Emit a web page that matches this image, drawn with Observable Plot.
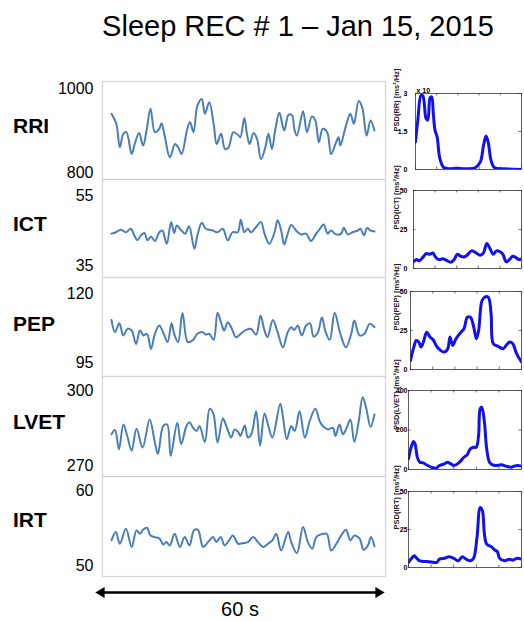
<!DOCTYPE html>
<html>
<head>
<meta charset="utf-8">
<script src="https://cdn.jsdelivr.net/npm/d3@7"></script>
<script src="https://cdn.jsdelivr.net/npm/@observablehq/plot@0.6"></script>
<style>
  html, body { margin: 0; padding: 0; background: #fff; }
  #root { position: relative; width: 524px; height: 621px; overflow: hidden; background: #fff;
          font-family: "Liberation Sans", Arial, Helvetica, sans-serif; }
  .abs { position: absolute; white-space: nowrap; }
</style>
</head>
<body>
<div id="root"></div>
<script>
// ---------------- DATA ----------------
const titleText = "Sleep REC # 1 \u2013 Jan 15, 2015";
const seriesNames = ["RRI", "ICT", "PEP", "LVET", "IRT"];
const durationLabel = "60 s";
const durationSeconds = 60;

// time series (seconds, units of each signal)
const rriTime = [0,1.1,1.9,2.7,3.4,4.6,5.3,6.3,7.2,8.0,8.9,9.9,10.9,11.4,12.2,13.3,14.5,15.2,16.0,17.2,17.9,18.7,19.6,20.6,21.3,22.3,23.3,24.0,25.0,25.9,26.7,27.8,29.0,29.4,30.3,30.9,31.5,32.4,33.2,34.1,35.1,35.8,36.6,37.4,38.3,39.4,40.4,41.2,41.7,42.3,43.7,44.6,45.7,46.5,47.3,48.2,49.2,50.1,51.1,51.8,52.2,53.4,54.5,55.3,56.4,57.2,58.2,59.1,60.0];
const rriValue = [940,916,860,892,896,844,868,894,864,900,952,896,904,917,884,836,868,860,844,900,920,896,959,975,940,967,916,868,892,856,860,896,888,884,930,892,868,894,880,832,860,892,856,904,942,900,938,936,904,888,946,896,933,924,872,904,896,844,868,884,864,908,940,916,970,955,888,924,900];

const ictTime = [0,1.0,2.1,3.3,4.4,5.2,5.9,6.7,7.5,8.2,9.0,9.9,10.9,11.6,12.6,13.6,14.3,14.9,15.8,16.8,17.7,18.9,19.6,20.6,21.5,22.3,23.1,24.2,25.4,26.5,27.6,28.8,29.5,30.3,31.1,31.8,33.0,34.1,34.9,36.0,37.2,37.9,38.7,39.4,40.2,41.0,42.1,43.2,44.4,45.5,46.7,47.4,48.4,49.3,50.1,51.2,52.4,53.0,53.9,55.0,56.2,56.8,57.6,58.3,59.1,60];
const ictValue = [44.1,44.5,45.2,44.5,45.5,43.6,42.2,43.6,44.3,42.2,43.3,42.0,44.5,45.0,41.2,47.4,44.3,46.4,45.2,44.1,46.2,39.8,43.6,47.2,45.5,45.2,45.0,44.5,45.5,42.2,44.5,44.5,48.1,44.5,45.5,44.5,46.0,47.4,44.1,41.2,44.5,47.9,45.0,41.0,44.1,46.6,45.0,43.9,44.1,42.0,44.1,45.2,46.7,44.1,45.0,43.9,44.1,45.8,43.9,44.5,45.0,45.5,43.6,45.7,45.0,44.7];

const pepTime = [0,0.8,1.8,2.7,3.7,4.6,5.6,6.5,7.3,8.1,9.0,9.9,10.9,11.9,12.8,13.7,14.3,15.2,16.2,17.4,18.5,19.6,20.8,21.5,22.3,23.3,24.2,25.1,25.7,26.5,27.3,28.4,29.5,30.7,31.8,33.0,34.0,34.9,35.6,36.8,37.9,39.1,40.2,41.0,41.7,42.5,43.4,44.4,45.3,46.1,47.1,48.0,48.8,49.8,50.9,52.2,53.5,54.7,55.4,56.6,57.7,58.9,60];
const pepValue = [110.4,106.0,109.2,104.8,107.2,106.6,101.7,106.6,104.8,105.4,99.9,105.4,108.4,105.4,102.4,109.2,105.4,102.4,112.9,102.4,103.0,105.4,106.0,105.1,105.4,103.2,113.0,109.0,106.6,109.6,107.8,104.2,105.4,106.8,107.2,105.1,112.0,106.6,104.2,110.4,106.0,100.5,106.0,107.8,106.8,108.4,104.8,108.4,109.2,104.4,106.0,111.4,106.3,103.2,113.0,105.4,100.5,105.4,110.2,104.8,105.4,109.0,107.8];

const lvetTime = [0,0.8,1.7,2.7,3.6,4.6,5.7,7.1,8.7,9.9,10.6,11.8,12.7,13.5,15.0,15.9,17.1,17.8,18.6,19.4,20.1,21.3,22.4,23.2,24.2,25.4,26.2,27.3,28.1,28.9,29.4,30.4,31.1,31.9,33.0,33.9,34.9,35.7,36.7,38.5,39.1,40.0,41.0,41.8,42.9,44.1,45.2,46.5,47.5,48.2,49.4,50.5,51.1,52.0,52.8,53.5,54.5,55.4,56.4,57.3,58.1,59.1,60];
const lvetValue = [282.5,284.2,276.5,286.4,281.8,275.9,284.7,277.2,288.4,279.2,274.6,285.8,286.4,273.9,287.1,278.5,285.8,287.3,285.1,283.8,285.8,279.4,292.7,291.0,279.2,288.8,285.8,281.2,284.4,283.4,281.8,286.0,281.2,282.5,291.7,277.9,290.8,286.4,281.2,294.7,289.7,280.5,285.8,283.8,291.7,281.2,287.7,292.7,287.7,285.8,284.4,285.1,281.8,286.4,282.5,284.4,288.4,279.4,287.7,297.3,293.0,285.5,290.4];

const irtTime = [0,1.0,1.9,3.3,4.6,5.7,6.5,7.2,8.1,8.9,9.9,11.0,11.8,12.5,13.3,14.4,15.6,16.7,17.8,18.8,19.7,20.9,22.0,23.2,23.9,24.9,25.8,26.8,27.7,28.9,30.0,31.1,32.3,33.4,34.6,35.7,36.7,37.6,38.7,40.3,41.0,42.3,43.7,44.8,45.8,46.7,47.8,49.1,50.1,51.3,52.4,53.5,54.5,55.4,56.6,57.5,58.5,59.2,60];
const irtValue = [53.35,54.46,52.90,54.90,52.46,54.68,54.23,54.77,55.03,54.01,53.79,53.57,52.81,53.12,52.68,54.23,52.46,53.79,52.68,54.68,54.77,52.46,53.12,53.79,53.12,53.79,52.68,53.35,54.01,52.90,52.99,53.12,53.79,53.12,52.46,52.90,53.35,54.23,52.01,54.46,53.12,51.66,55.12,53.12,52.24,53.79,54.15,54.23,52.01,52.90,54.01,54.77,53.35,54.01,53.57,52.10,52.68,53.79,52.55];

// y tick labels for the time series panels
const rriTicks = [800, 1000];
const ictTicks = [35, 55];
const pepTicks = [95, 120];
const lvetTicks = [270, 300];
const irtTicks = [50, 60];

// power spectral densities (Hz, ms^2/Hz)
const psdFreqRR = [0,0.011,0.026,0.035,0.050,0.058,0.069,0.076,0.084,0.092,0.102,0.115,0.133,0.161,0.191,0.237,0.283,0.306,0.321,0.333,0.344,0.356,0.372,0.420,0.5];
const psdRR = [1.09,1.95,2.93,2.9,2.01,1.95,2.84,2.87,2.21,1.55,1.29,0.43,0.08,0.03,0.05,0.03,0.08,0.30,0.96,1.32,1.03,0.37,0.08,0.03,0.0];
const psdFreqICT = [0,0.015,0.027,0.042,0.060,0.075,0.090,0.102,0.117,0.136,0.151,0.173,0.188,0.203,0.218,0.233,0.248,0.268,0.286,0.309,0.324,0.339,0.354,0.369,0.384,0.399,0.414,0.429,0.444,0.459,0.474,0.489,0.5];
const psdICT = [4.3,5.7,4.9,7.0,9.6,9.1,10.0,7.4,5.7,6.2,5.3,4.0,5.7,9.1,7.9,7.4,8.5,11.3,10.4,8.5,10.0,16.0,12.8,9.1,11.3,10.9,9.1,4.3,5.7,7.9,7.0,5.7,6.2];
const psdFreqPEP = [0,0.015,0.026,0.037,0.047,0.058,0.073,0.088,0.102,0.120,0.139,0.154,0.168,0.178,0.190,0.205,0.227,0.241,0.256,0.270,0.285,0.297,0.307,0.322,0.336,0.351,0.363,0.373,0.395,0.417,0.431,0.446,0.461,0.475,0.490,0.5];
const psdPEP = [5.9,14.4,18.6,17.6,14.4,17.6,23.9,20.8,19.1,14.4,11.9,11.2,13.3,20.8,15.5,19.7,23.9,26.1,33.5,33.5,27.1,19.7,25.0,44.1,46.6,46.2,35.6,16.5,14.8,13.3,15.5,17.6,16.5,11.2,7.0,4.9];
const psdFreqLVET = [0,0.010,0.022,0.029,0.039,0.050,0.065,0.079,0.101,0.122,0.137,0.159,0.173,0.187,0.202,0.223,0.245,0.259,0.274,0.288,0.300,0.310,0.317,0.324,0.336,0.346,0.360,0.382,0.411,0.432,0.454,0.468,0.483,0.5];
const psdLVET = [54,105,142,130,62,37,34,24,12,7,20,29,37,29,20,34,62,74,105,113,113,172,307,316,240,105,34,20,24,17,12,17,20,17];
const psdFreqIRT = [0,0.014,0.026,0.036,0.050,0.079,0.108,0.125,0.137,0.159,0.180,0.202,0.220,0.238,0.255,0.274,0.288,0.303,0.317,0.327,0.336,0.346,0.367,0.382,0.393,0.403,0.425,0.447,0.461,0.480,0.5];
const psdIRT = [3.3,6.1,7.7,6.1,4.4,3.9,3.5,3.3,5.5,6.1,7.0,5.9,4.4,7.0,5.5,4.4,6.1,19.7,39.5,37.3,21.9,15.4,13.6,11.4,10.5,6.1,4.4,5.5,4.8,6.1,5.5];

const psdLabels = ["PSD(RR) [ms\u00B2/Hz]", "PSD(ICT) [ms\u00B2/Hz]", "PSD(PEP) [ms\u00B2/Hz]", "PSD(LVET) [ms\u00B2/Hz]", "PSD(IRT) [ms\u00B2/Hz]"];
const psdTicksRR = [0, 1.5, 3];
const psdTicks50 = [0, 25, 50];
const psdTicksLVET = [0, 200, 400];
const psdFreqTicks = [0, 0.1, 0.2, 0.3, 0.4, 0.5];
const psdScaleNote = "x 10";

// ---------------- LAYOUT / DRAWING ----------------
const FONT = '"Liberation Sans", Arial, Helvetica, sans-serif';
const root = document.getElementById("root");
function place(el, left, top) {
  el.style.position = "absolute";
  el.style.left = left + "px";
  el.style.top = top + "px";
  root.appendChild(el);
  return el;
}
function zip(t, v, kx, ky) {
  const n = Math.min(t.length, v.length);
  const out = [];
  for (let i = 0; i < n; i++) out.push({[kx]: t[i], [ky]: v[i]});
  return out;
}

// title
const title = document.createElement("div");
title.className = "abs";
title.textContent = titleText;
title.style.fontSize = "29px";
title.style.lineHeight = "29px";
title.style.width = "524px";
title.style.textAlign = "center";
place(title, 36, 12);

const series = [
  {t: rriTime, v: rriValue, ticks: rriTicks},
  {t: ictTime, v: ictValue, ticks: ictTicks},
  {t: pepTime, v: pepValue, ticks: pepTicks},
  {t: lvetTime, v: lvetValue, ticks: lvetTicks},
  {t: irtTime, v: irtValue, ticks: irtTicks}
];
// panel geometry (pixels)
const boxTop = [81, 179, 277, 376, 476];
const boxH = [98, 98, 99, 100, 100];
const tickPx = [[172, 88], [265, 195], [362, 293], [465, 390], [565, 490]];
const labelCenter = [126, 224, 324, 422, 520];

series.forEach((s, i) => {
  const data = zip(s.t, s.v, "t", "v");
  const top = boxTop[i];
  const svg = Plot.plot({
    width: 386, height: boxH[i],
    marginLeft: 102, marginRight: 1, marginTop: 0, marginBottom: 0,
    style: {fontFamily: FONT, background: "transparent", overflow: "visible", color: "#000"},
    x: {domain: [0, durationSeconds], range: [111, 374], axis: null},
    y: {domain: s.ticks, range: [tickPx[i][0] - top, tickPx[i][1] - top], axis: null},
    marks: [
      Plot.frame({stroke: "#d4d4d4", strokeWidth: 1.2}),
      Plot.axisY(s.ticks, {anchor: "left", tickSize: 0, tickPadding: 9, fontSize: 16, tickFormat: d => String(d), label: null}),
      Plot.line(data, {x: "t", y: "v", stroke: "#4a7ebb", strokeWidth: 2, curve: "catmull-rom"})
    ]
  });
  place(svg, 0, top);

  const lab = document.createElement("div");
  lab.className = "abs";
  lab.textContent = seriesNames[i];
  lab.style.fontSize = "21px";
  lab.style.fontWeight = "bold";
  lab.style.lineHeight = "24px";
  place(lab, 13, labelCenter[i] - 12);
});

// PSD panels
const psds = [
  {f: psdFreqRR, p: psdRR, ticks: psdTicksRR, note: psdScaleNote},
  {f: psdFreqICT, p: psdICT, ticks: psdTicks50},
  {f: psdFreqPEP, p: psdPEP, ticks: psdTicks50},
  {f: psdFreqLVET, p: psdLVET, ticks: psdTicksLVET},
  {f: psdFreqIRT, p: psdIRT, ticks: psdTicks50}
];
const psdBox = [
  {left: 415, top: 93, bottom: 169},
  {left: 413, top: 190, bottom: 268},
  {left: 410, top: 291, bottom: 369},
  {left: 408, top: 390, bottom: 469},
  {left: 408, top: 491, bottom: 567}
];
const psdRight = 521;
const svgLeft = 386;

psds.forEach((s, i) => {
  const b = psdBox[i];
  const mt = 12, mb = 6;
  const w = 524 - svgLeft;
  const pw = psdRight - b.left, ph = b.bottom - b.top;
  const data = zip(s.f, s.p, "f", "p");
  const marks = [
    Plot.line(data, {x: "f", y: "p", stroke: "#1010f0", strokeWidth: 3, curve: "catmull-rom", clip: true}),
    Plot.frame({stroke: "#333", strokeWidth: 0.8}),
    Plot.tickX(psdFreqTicks, {x: d => d, stroke: "#333", strokeWidth: 0.7, insetBottom: ph - 2.5}),
    Plot.tickX(psdFreqTicks, {x: d => d, stroke: "#333", strokeWidth: 0.7, insetTop: ph - 2.5}),
    Plot.tickY(s.ticks, {y: d => d, stroke: "#333", strokeWidth: 0.7, insetRight: pw - 2.5}),
    Plot.tickY(s.ticks, {y: d => d, stroke: "#333", strokeWidth: 0.7, insetLeft: pw - 2.5}),
    Plot.axisY(s.ticks, {anchor: "left", tickSize: 0, tickPadding: b.left - 407, fontSize: 7, fontWeight: "bold", tickFormat: d => String(d), label: null}),
    Plot.text([psdLabels[i]], {text: d => d, frameAnchor: "left", dx: 396 - b.left, rotate: -90, fontSize: 7.5, fontWeight: "bold", fill: "#222"})
  ];
  if (s.note) marks.push(Plot.text([s.note], {text: d => d, frameAnchor: "top-left", textAnchor: "start", dx: 1, dy: -5, fontSize: 7, fontWeight: "bold"}));
  const svg = Plot.plot({
    width: w, height: ph + mt + mb,
    marginLeft: b.left - svgLeft, marginRight: 524 - psdRight, marginTop: mt, marginBottom: mb,
    style: {fontFamily: FONT, background: "transparent", overflow: "visible", color: "#000"},
    x: {domain: [0, 0.5], axis: null},
    y: {domain: [s.ticks[0], s.ticks[s.ticks.length - 1]], axis: null},
    marks
  });
  place(svg, svgLeft, b.top - mt);
});

// 60 s scale bar
const barData = [{a: 0, b: durationSeconds}];
const heads = [{x: 0, r: -90}, {x: durationSeconds, r: 90}];
const barSvg = Plot.plot({
  width: 524, height: 43, margin: 0,
  style: {fontFamily: FONT, background: "transparent", overflow: "visible", color: "#000"},
  x: {domain: [0, durationSeconds], range: [101, 378], axis: null},
  y: {domain: [0, 1], range: [14, 31], axis: null},
  marks: [
    Plot.link(barData, {x1: "a", x2: "b", y1: () => 0, y2: () => 0, stroke: "#000", strokeWidth: 2.5}),
    Plot.dot(heads, {x: "x", y: () => 0, symbol: "triangle", rotate: "r", r: 4, fill: "#000", stroke: "none"}),
    Plot.text([durationLabel], {text: d => d, x: () => durationSeconds / 2, y: () => 1, fontSize: 20})
  ]
});
place(barSvg, 0, 578);
</script>
</body>
</html>
